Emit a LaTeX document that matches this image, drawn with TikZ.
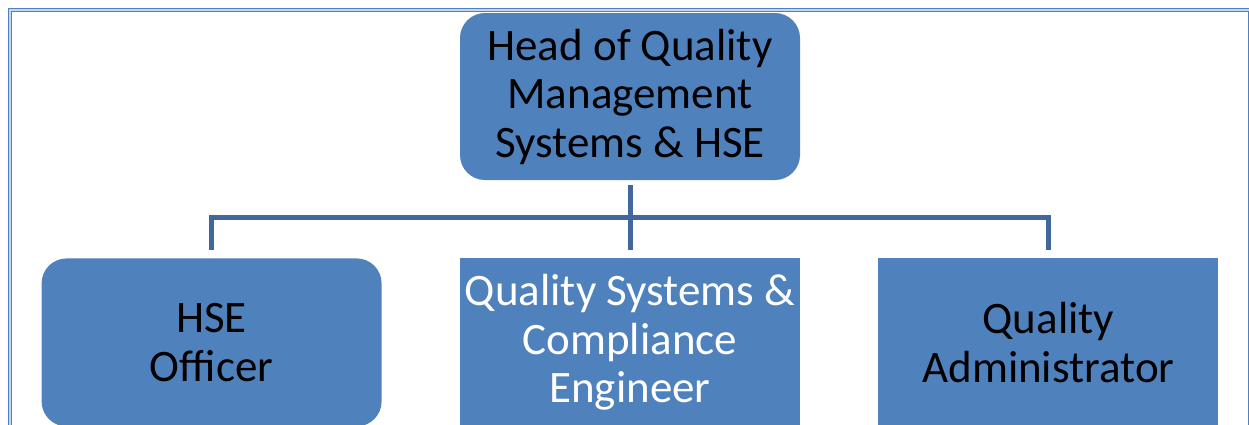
\documentclass[tikz,border=0pt]{standalone}
\usepackage{fontspec}
\setmainfont{Carlito}
\usepackage{tikz}
\usetikzlibrary{positioning, calc}
\definecolor{boxblue}{HTML}{4F81BD}
\definecolor{linkblue}{HTML}{41689C}
\definecolor{framelight}{HTML}{C6D6EB}

\begin{document}
\begin{tikzpicture}[
    x=1pt, y=-1pt,
    node distance=78pt,
    post/.style={rectangle, fill=boxblue, minimum width=340pt, align=center,
        font=\fontsize{45}{48.5}\selectfont, inner sep=0pt},
    round/.style={post, rounded corners=25pt},
    conn/.style={draw=linkblue, line width=5pt}
]
    \useasboundingbox (0,0) rectangle (1249,424);
    \draw[draw=boxblue, line width=1pt, double=framelight, double distance=1.5pt] (9.8,9.8) rectangle (1249.6,440);

    \node[round, minimum height=167pt] (head) at (630,96.5) {Head of Quality\\Management\\Systems \& HSE};
    \node[post, below=of head, minimum height=168pt, text=white] (engineer) {Quality Systems \&\\Compliance\\Engineer};
    \node[round, left=of engineer, minimum height=168pt] (hse) {HSE\\Officer};
    \node[post, right=of engineer, minimum height=168pt] (admin) {Quality\\Administrator};

    \coordinate (bus) at ([yshift=-37pt]head.south);
    \draw[conn] ([yshift=-5pt]head.south) -- ([yshift=8pt]engineer.north);
    \draw[conn] ([yshift=8pt]hse.north) |- (bus) -| ([yshift=8pt]admin.north);
\end{tikzpicture}
\end{document}
